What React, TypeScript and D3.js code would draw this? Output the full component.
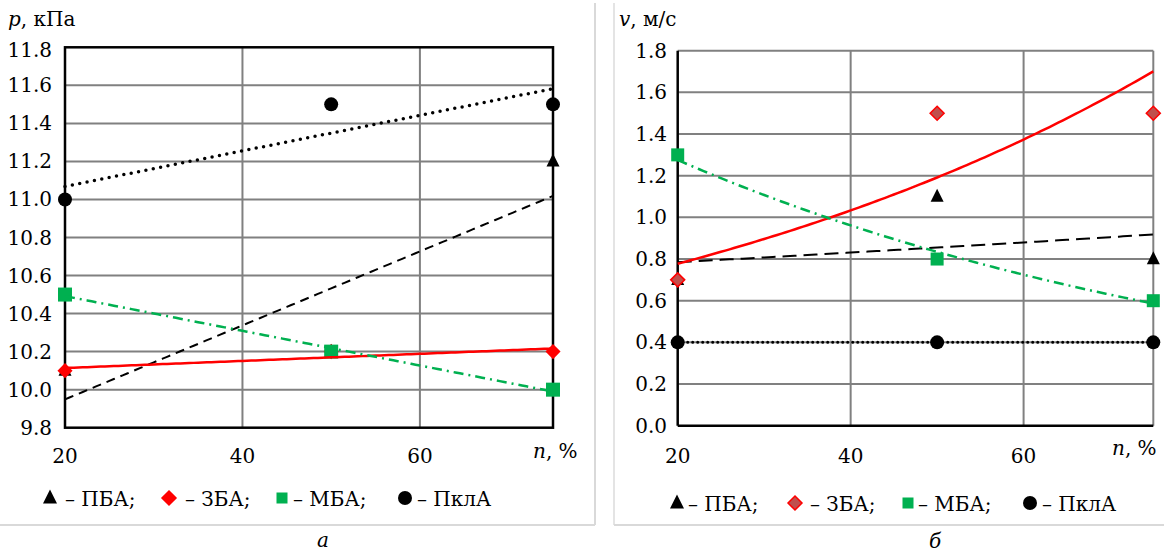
import React from "react";
import * as d3 from "d3";

const nVals = [20, 50, 75];
const pPBA = [10.1, 10.2, 11.2];
const pZBA = [10.1, 10.2, 10.2];
const pMBA = [10.5, 10.2, 10.0];
const pPklA = [11.0, 11.5, 11.5];
const vPBA = [0.7, 1.1, 0.8];
const vZBA = [0.7, 1.5, 1.5];
const vMBA = [1.3, 0.8, 0.6];
const vPklA = [0.4, 0.4, 0.4];
const pTicks = [9.8, 10.0, 10.2, 10.4, 10.6, 10.8, 11.0, 11.2, 11.4, 11.6, 11.8];
const vTicks = [0.0, 0.2, 0.4, 0.6, 0.8, 1.0, 1.2, 1.4, 1.6, 1.8];
const nTicks = [20, 40, 60];
const legendNames = ["ПБА;", "ЗБА;", "МБА;", "ПклА"];

const FONT = "DejaVu Serif, Liberation Serif, serif";
const FS = 20;

function linFit(xs: number[], ys: number[]) {
  const mx = d3.mean(xs)!, my = d3.mean(ys)!;
  let sxy = 0, sxx = 0;
  xs.forEach((x, i) => { sxy += (x - mx) * (ys[i] - my); sxx += (x - mx) * (x - mx); });
  const b = sxy / sxx, a = my - b * mx;
  return (x: number) => a + b * x;
}
function expFit(xs: number[], ys: number[]) {
  const f = linFit(xs, ys.map((y) => Math.log(y)));
  return (x: number) => Math.exp(f(x));
}

const samples = d3.range(20, 75.001, 0.5);

function T(props: any) {
  return <text fontFamily={FONT} fill="#000" fontSize={FS} {...props} />;
}

function Triangle({ x, y, s = 13 }: { x: number; y: number; s?: number }) {
  const h = s;
  return <path d={`M${x},${y - h * 0.6} L${x + s / 2},${y + h * 0.4} L${x - s / 2},${y + h * 0.4} Z`} fill="#000" />;
}
function Diamond({ x, y, s = 6.5, fill = "#ff0000", stroke = "#ff0000" }: any) {
  return <path d={`M${x},${y - s} L${x + s},${y} L${x},${y + s} L${x - s},${y} Z`} fill={fill} stroke={stroke} strokeWidth={1.5} />;
}
function Square({ x, y, s = 13 }: any) {
  return <rect x={x - s / 2} y={y - s / 2} width={s} height={s} fill="#00b050" />;
}
function Circle({ x, y, r = 7 }: any) {
  return <circle cx={x} cy={y} r={r} fill="#000" />;
}

function Legend({ y, xs, diamondFill }: { y: number; xs: number[][]; diamondFill: string }) {
  return (
    <g>
      <Triangle x={xs[0][0]} y={y - 8} s={14} />
      <T x={xs[0][1]} y={y}>{"– " + legendNames[0]}</T>
      <Diamond x={xs[1][0]} y={y - 8} s={7} fill={diamondFill} />
      <T x={xs[1][1]} y={y}>{"– " + legendNames[1]}</T>
      <Square x={xs[2][0]} y={y - 8} s={11} />
      <T x={xs[2][1]} y={y}>{"– " + legendNames[2]}</T>
      <Circle x={xs[3][0]} y={y - 8} r={7} />
      <T x={xs[3][1]} y={y}>{"– " + legendNames[3]}</T>
    </g>
  );
}

function LeftChart() {
  const x = d3.scaleLinear().domain([20, 75]).range([65, 553]);
  const y = d3.scaleLinear().domain([9.8, 11.8]).range([427.7, 47.3]);
  const line = (f: (n: number) => number) =>
    d3.line<number>().x((n) => x(n)).y((n) => y(f(n)))(samples) || "";
  return (
    <g>
      {pTicks.slice(1, -1).map((t) => (
        <line key={t} x1={x(20)} x2={x(75)} y1={y(t)} y2={y(t)} stroke="#808080" strokeWidth={2} />
      ))}
      {nTicks.slice(1).map((t) => (
        <line key={t} x1={x(t)} x2={x(t)} y1={y(9.8)} y2={y(11.8)} stroke="#808080" strokeWidth={2} />
      ))}
      <rect x={x(20)} y={y(11.8)} width={x(75) - x(20)} height={y(9.8) - y(11.8)} fill="none" stroke="#000" strokeWidth={2.5} />
      {pTicks.map((t, i) => (
        <T key={t} x={52} y={y(t) + 7 + (i === pTicks.length - 1 ? 3 : 0)} textAnchor="end">{t.toFixed(1)}</T>
      ))}
      {nTicks.map((t) => (
        <T key={t} x={x(t)} y={463} textAnchor="middle">{t}</T>
      ))}
      <T x={533} y={458}><tspan fontStyle="italic">n</tspan>, %</T>
      <T x={8} y={26}><tspan fontStyle="italic">p</tspan>, кПа</T>
      <T x={323} y={547} textAnchor="middle" fontStyle="italic">а</T>
      {nVals.map((n, i) => <Triangle key={"t" + i} x={x(n)} y={y(pPBA[i])} />)}
      {nVals.map((n, i) => <Diamond key={"d" + i} x={x(n)} y={y(pZBA[i])} />)}
      {nVals.map((n, i) => <Square key={"s" + i} x={x(n)} y={y(pMBA[i])} s={14} />)}
      {nVals.map((n, i) => <Circle key={"c" + i} x={x(n)} y={y(pPklA[i])} />)}
      <path d={line(linFit(nVals, pPBA))} fill="none" stroke="#000" strokeWidth={2} strokeDasharray="9,6" />
      <path d={line(linFit(nVals, pZBA))} fill="none" stroke="#ff0000" strokeWidth={2.5} />
      <path d={line(linFit(nVals, pMBA))} fill="none" stroke="#00b050" strokeWidth={2.5} strokeDasharray="10,5,2,5" />
      <path d={line(linFit(nVals, pPklA))} fill="none" stroke="#000" strokeWidth={3.5} strokeDasharray="0,7.5" strokeLinecap="round" />
      <Legend y={506} xs={[[50, 65], [169, 185], [282, 293], [405, 417]]} diamondFill="#ff0000" />
    </g>
  );
}

function RightChart() {
  const x = d3.scaleLinear().domain([20, 75]).range([677.7, 1153.3]);
  const y = d3.scaleLinear().domain([0, 1.8]).range([425.7, 50.7]);
  const line = (f: (n: number) => number) =>
    d3.line<number>().x((n) => x(n)).y((n) => y(f(n)))(samples) || "";
  return (
    <g>
      {vTicks.slice(1).map((t) => (
        <line key={t} x1={x(20)} x2={x(75)} y1={y(t)} y2={y(t)} stroke="#808080" strokeWidth={2} />
      ))}
      {[...nTicks.slice(1), 75].map((t) => (
        <line key={t} x1={x(t)} x2={x(t)} y1={y(0)} y2={y(1.8)} stroke="#808080" strokeWidth={2} />
      ))}
      <line x1={x(20)} x2={x(20)} y1={y(0)} y2={y(1.8)} stroke="#000" strokeWidth={2.5} />
      <line x1={x(20)} x2={x(75)} y1={y(0)} y2={y(0)} stroke="#000" strokeWidth={2.5} />
      {vTicks.map((t) => (
        <T key={t} x={667} y={y(t) + 7} textAnchor="end">{t.toFixed(1)}</T>
      ))}
      {nTicks.map((t) => (
        <T key={t} x={x(t)} y={463} textAnchor="middle">{t}</T>
      ))}
      <T x={1112} y={455}><tspan fontStyle="italic">n</tspan>, %</T>
      <T x={619} y={26}><tspan fontStyle="italic">v</tspan>, м/с</T>
      <T x={935} y={548} textAnchor="middle" fontStyle="italic">б</T>
      {nVals.map((n, i) => <Triangle key={"t" + i} x={x(n)} y={y(vPBA[i])} />)}
      {nVals.map((n, i) => <Diamond key={"d" + i} x={x(n)} y={y(vZBA[i])} s={7} fill="#c0504d" />)}
      {nVals.map((n, i) => <Square key={"s" + i} x={x(n)} y={y(vMBA[i])} />)}
      {nVals.map((n, i) => <Circle key={"c" + i} x={x(n)} y={y(vPklA[i])} />)}
      <path d={line(expFit(nVals, vPBA))} fill="none" stroke="#000" strokeWidth={2} strokeDasharray="14,7" />
      <path d={line(expFit(nVals, vZBA))} fill="none" stroke="#ff0000" strokeWidth={2.5} />
      <path d={line(expFit(nVals, vMBA))} fill="none" stroke="#00b050" strokeWidth={2.5} strokeDasharray="10,5,2,5" />
      <path d={line(expFit(nVals, vPklA))} fill="none" stroke="#000" strokeWidth={3} strokeDasharray="0,5" strokeLinecap="round" />
      <Legend y={511} xs={[[677, 688], [795, 810], [908, 918], [1030, 1042]]} diamondFill="#c0504d" />
    </g>
  );
}

export default function App() {
  return (
    <svg width={1164} height={553} fontFamily={FONT} style={{ position: "absolute", left: 0, top: 0, background: "#fff" }}>
      <rect width={1164} height={553} fill="#fff" />
      <line x1={595} x2={595} y1={3} y2={525} stroke="#d9d9d9" strokeWidth={2} />
      <line x1={0} x2={595} y1={525} y2={525} stroke="#d9d9d9" strokeWidth={2} />
      <line x1={614} x2={614} y1={3} y2={525} stroke="#e4e4e4" strokeWidth={2} />
      <line x1={614} x2={1164} y1={525} y2={525} stroke="#d9d9d9" strokeWidth={2} />
      <LeftChart />
      <RightChart />
    </svg>
  );
}
